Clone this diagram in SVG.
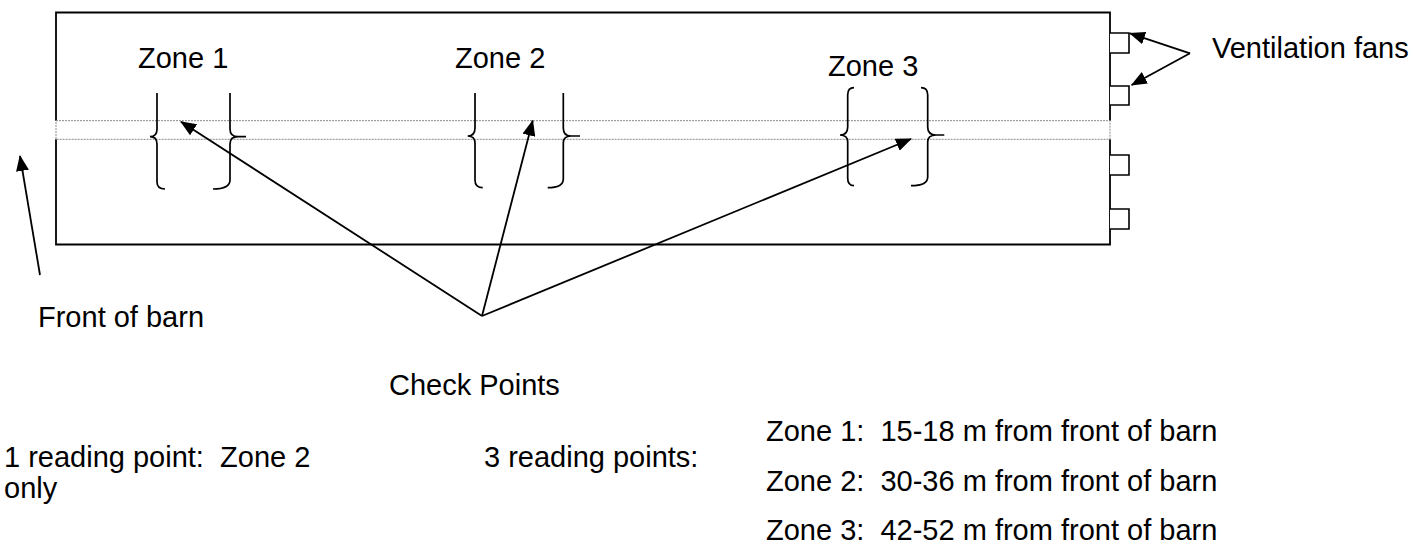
<svg xmlns="http://www.w3.org/2000/svg" width="1413" height="544" viewBox="0 0 1413 544">
<style>
.t{font-family:"Liberation Sans",Arial,sans-serif;font-size:29px;fill:#000;white-space:pre}
.ln{fill:none;stroke:#000;stroke-width:1.8}
.br{fill:none;stroke:#000;stroke-width:1.7}
.band{fill:none;stroke:#888;stroke-width:1;stroke-dasharray:2 1}
.fan{fill:#fff;stroke:#000;stroke-width:1.6}
</style>
<defs>
<marker id="ah" markerUnits="userSpaceOnUse" markerWidth="16" markerHeight="13" refX="15" refY="6.5" orient="auto">
<path d="M0,0 L16,6.5 L0,13 z" fill="#000"/>
</marker>
</defs>
<g id="barn">
<path class="ln" d="M56,120.7 L56,12.5 L1110,12.5 L1110,120.7 M1110,139.3 L1110,244.5 L56,244.5 L56,139.3"/>
<rect class="band" x="56" y="120.7" width="1054" height="18.6"/>
</g>
<g id="fans">
<path class="fan" d="M1110,33 L1129,33 L1129,53 L1110,53"/>
<path class="fan" d="M1110,86 L1129,86 L1129,105 L1110,105"/>
<path class="fan" d="M1110,155 L1129,155 L1129,175 L1110,175"/>
<path class="fan" d="M1110,209 L1129,209 L1129,229 L1110,229"/>
</g>
<g id="zone1">
<text class="t" x="138" y="68">Zone 1</text>
<path class="br" d="M157,93 L157,129 Q157,136.7 150,136.7 Q157,136.7 157,144 L157,182 Q157,189 165,189"/>
<path class="br" d="M230,93 L230,129 Q230,136.7 238,136.7 L246,136.7 M238,136.7 Q230,136.7 230,144 L230,180 Q230,189 213,189"/>
</g>
<g id="zone2">
<text class="t" x="455" y="68">Zone 2</text>
<path class="br" d="M475,93 L475,128 Q475,136 467.7,136 Q475,136 475,143 L475,180 Q475,187.7 482.7,187.7"/>
<path class="br" d="M563.3,93 L563.3,128 Q563.3,136 571,136 L580,136 M571,136 Q563.3,136 563.3,143 L563.3,179 Q563.3,187.7 547.7,187.7"/>
</g>
<g id="zone3">
<text class="t" x="828" y="76">Zone 3</text>
<path class="br" d="M854,87.7 Q847.7,87.7 847.7,95 L847.7,127 Q847.7,135 840,135 Q847.7,135 847.7,142 L847.7,178 Q847.7,185.7 854,185.7"/>
<path class="br" d="M921,87.7 Q927.7,87.7 927.7,95 L927.7,127 Q927.7,135 936,135 L944.3,135 M936,135 Q927.7,135 927.7,142 L927.7,177 Q927.7,185.7 911,185.7"/>
</g>
<g id="connectors">
<line class="ln" x1="482" y1="316" x2="181" y2="121.7" marker-end="url(#ah)"/>
<line class="ln" x1="482" y1="316" x2="532.7" y2="120.7" marker-end="url(#ah)"/>
<line class="ln" x1="482" y1="316" x2="911" y2="139" marker-end="url(#ah)"/>
<line class="ln" x1="40" y1="275" x2="20" y2="156" marker-end="url(#ah)"/>
<line class="ln" x1="1190" y1="53.3" x2="1130" y2="33.3" marker-end="url(#ah)"/>
<line class="ln" x1="1190" y1="53.3" x2="1131.7" y2="85" marker-end="url(#ah)"/>
</g>
<g id="labels">
<text class="t" x="1212" y="58">Ventilation fans</text>
<text class="t" x="38" y="327">Front of barn</text>
<text class="t" x="389" y="395">Check Points</text>
<text class="t" x="4" y="467">1 reading point:  Zone 2</text>
<text class="t" x="4" y="498">only</text>
<text class="t" x="484" y="467">3 reading points:</text>
<text class="t" x="766" y="441">Zone 1:  15-18 m from front of barn</text>
<text class="t" x="766" y="491">Zone 2:  30-36 m from front of barn</text>
<text class="t" x="766" y="540">Zone 3:  42-52 m from front of barn</text>
</g>
</svg>
